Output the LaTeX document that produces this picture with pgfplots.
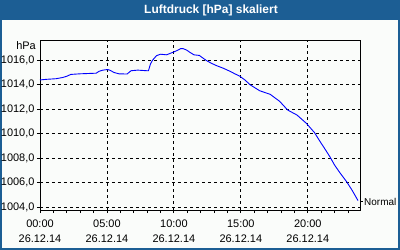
\documentclass[border=0pt]{standalone}
\usepackage{fontspec}
\setmainfont{Liberation Sans}
\usepackage{pgfplots}
\pgfplotsset{compat=1.18}
\definecolor{titleblue}{RGB}{28,94,148}
\definecolor{bgwhite}{RGB}{250,252,250}
\definecolor{lineblue}{RGB}{0,0,255}
\begin{document}
\begin{tikzpicture}
\useasboundingbox (0,0) rectangle (400bp,250bp);
\fill[titleblue] (0,0) rectangle (400bp,250bp);
\fill[bgwhite] (1.5bp,2bp) rectangle (398bp,230bp);
\node[text=white,font=\fontsize{12}{14}\selectfont\bfseries] at (211bp,240bp) {Luftdruck [hPa] skaliert};
\node[anchor=base east,font=\fontsize{11}{13}\selectfont,inner sep=0pt] at (36bp,200.7bp) {hPa};
\begin{axis}[
  at={(40bp,40bp)}, anchor=south west,
  scale only axis, width=320bp, height=170bp,
  xmin=0, xmax=23.9, ymin=1003.78, ymax=1017.66,
  axis line style={black, line width=0.8bp},
  xtick={0,5,10,15,20},
  xticklabels={{00:00\\26.12.14},{05:00\\26.12.14},{10:00\\26.12.14},{15:00\\26.12.14},{20:00\\26.12.14}},
  minor xtick={1,2,3,4,6,7,8,9,11,12,13,14,16,17,18,19,21,22,23},
  ytick={1004,1006,1008,1010,1012,1014,1016},
  tick align=outside, major tick length=3bp, minor tick length=3bp,
  tick style={black, line width=0.8bp},
  minor tick style={black, line width=0.8bp},
  xtick pos=bottom, ytick pos=left,
  grid=major,
  major grid style={black, line width=0.8bp, dash pattern=on 3bp off 3bp},
  /pgf/number format/assume math mode=true,
  /pgf/number format/fixed,
  /pgf/number format/fixed zerofill,
  /pgf/number format/precision=1,
  /pgf/number format/use comma,
  /pgf/number format/1000 sep={},
  tick label style={font=\fontsize{11}{15}\selectfont, text=black},
  xticklabel style={align=center, yshift=-3bp},
  yticklabel style={xshift=1bp},
  clip=false,
]
\addplot[lineblue, line width=0.9bp] coordinates {
(0,1014.40) (0.5,1014.45) (1.2,1014.50) (1.7,1014.60) (2.0,1014.70) (2.3,1014.85)
(3.0,1014.90) (4.2,1014.95) (4.4,1015.10) (4.7,1015.20) (5.05,1015.25) (5.2,1015.20)
(5.55,1015.00) (5.9,1014.90) (6.5,1014.88) (6.8,1015.15) (7.3,1015.20) (8.0,1015.15)
(8.1,1015.15) (8.25,1015.70) (8.4,1016.00) (8.7,1016.38) (9.0,1016.50) (9.45,1016.45)
(9.8,1016.60) (10.2,1016.78) (10.5,1016.95) (10.7,1016.95) (10.95,1016.84) (11.2,1016.65)
(11.5,1016.45) (11.9,1016.40) (12.2,1016.16) (12.45,1015.97) (12.8,1015.76) (13.2,1015.56)
(13.7,1015.35) (14.2,1015.10) (14.55,1014.90) (14.9,1014.72) (15.3,1014.40) (15.7,1014.00)
(16.4,1013.52) (17.2,1013.22) (17.9,1012.65) (18.5,1011.94) (19.2,1011.53) (19.9,1010.85)
(20.5,1010.10) (20.9,1009.40) (21.3,1008.73) (21.65,1008.13) (22.0,1007.45) (22.4,1006.82)
(22.9,1006.09) (23.3,1005.41) (23.75,1004.55)
};
\draw[black, line width=0.8bp] (axis cs:23.9,1004.46) -- ++(3bp,0bp)
  node[anchor=west, inner sep=0.8bp, font=\fontsize{10}{12}\selectfont] {Normal};
\end{axis}
\end{tikzpicture}
\end{document}
